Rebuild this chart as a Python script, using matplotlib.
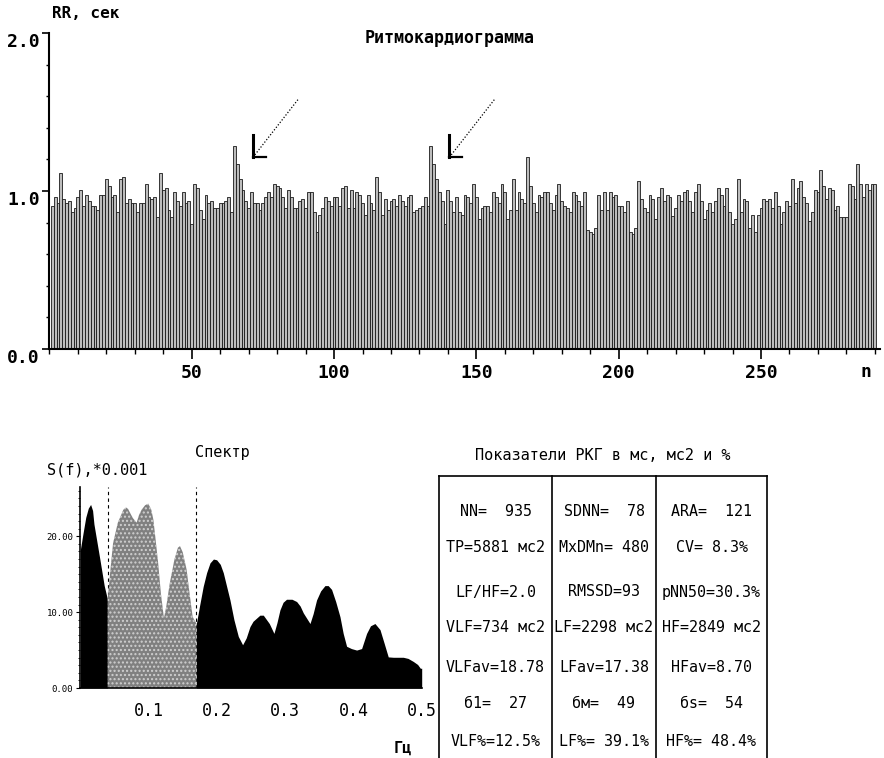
import numpy as np
import matplotlib
matplotlib.use("Agg")
import matplotlib.pyplot as plt
from matplotlib.ticker import MultipleLocator


# ------------------------------------------------------------
# DATA
# ------------------------------------------------------------
# RR intervals, seconds (one per beat)
rr = [
    0.905, 0.962, 0.922, 1.115, 0.948, 0.922, 0.935, 0.866, 0.891, 0.962,
    1.004, 0.908, 0.977, 0.935, 0.908, 0.908, 0.879, 0.977, 0.977, 1.074,
    1.031, 0.962, 0.977, 0.866, 1.074, 1.088, 0.922, 0.948, 0.922, 0.922,
    0.866, 0.922, 0.922, 1.046, 0.962, 0.948, 0.962, 0.837, 1.115, 1.004,
    1.019, 0.879, 0.837, 0.992, 0.935, 0.908, 0.992, 0.922, 0.935, 0.794,
    1.046, 1.019, 0.879, 0.824, 0.977, 0.922, 0.935, 0.893, 0.893, 0.922,
    0.922, 0.935, 0.962, 0.866, 1.283, 1.172, 1.074, 1.004, 0.935, 0.893,
    0.992, 0.922, 0.922, 0.879, 0.922, 0.962, 0.992, 0.962, 1.046, 1.031,
    1.019, 0.962, 0.893, 1.004, 0.962, 0.893, 0.893, 0.935, 0.948, 0.893,
    0.992, 0.992, 0.866, 0.740, 0.851, 0.893, 0.962, 0.935, 0.908, 0.962,
    0.962, 0.908, 1.019, 1.031, 0.893, 1.004, 0.893, 0.992, 0.977, 0.922,
    0.851, 0.977, 0.922, 0.879, 1.088, 0.992, 0.851, 0.948, 0.879, 0.935,
    0.948, 0.908, 0.977, 0.935, 0.908, 0.962, 0.977, 0.866, 0.879, 0.893,
    0.908, 0.962, 0.908, 1.283, 1.172, 1.074, 0.992, 0.935, 0.794, 1.004,
    0.935, 0.866, 0.962, 0.866, 0.851, 0.977, 0.962, 0.922, 1.046, 0.962,
    0.824, 0.893, 0.908, 0.908, 0.866, 0.992, 0.962, 0.922, 1.046, 0.992,
    0.824, 0.879, 1.074, 0.879, 0.992, 0.948, 0.922, 1.214, 1.031, 0.922,
    0.866, 0.977, 0.962, 0.992, 0.992, 0.922, 0.879, 0.977, 1.046, 0.935,
    0.908, 0.893, 0.866, 0.992, 0.977, 0.935, 0.908, 0.992, 0.755, 0.740,
    0.726, 0.767, 0.977, 0.879, 0.992, 0.879, 0.992, 0.962, 0.977, 0.908,
    0.908, 0.866, 0.935, 0.740, 0.726, 0.767, 1.061, 0.948, 0.893, 0.866,
    0.977, 0.948, 0.824, 0.962, 1.019, 0.935, 0.977, 0.962, 0.839, 0.893,
    0.977, 0.935, 0.992, 1.004, 0.935, 0.866, 0.992, 1.046, 0.935, 0.824,
    0.879, 0.922, 0.866, 0.935, 1.019, 0.977, 0.908, 1.019, 0.866, 0.794,
    0.824, 1.074, 0.866, 0.948, 0.935, 0.767, 0.851, 0.740, 0.851, 0.893,
    0.948, 0.935, 0.948, 0.893, 0.992, 0.908, 0.794, 0.866, 0.935, 0.908,
    1.074, 0.922, 1.019, 1.061, 0.962, 0.922, 0.809, 0.866, 1.004, 0.992,
    1.130, 1.031, 0.948, 1.019, 1.004, 0.879, 0.908, 0.837, 0.837, 0.837,
    1.046, 1.031, 0.948, 1.172, 1.046, 0.962, 1.046, 1.004, 1.046, 1.046,
]
arrow_beats = [65, 134]          # beats marked by arrows
rr_ticks = [0.0, 1.0, 2.0]
n_ticks = [50, 100, 150, 200, 250]

# power spectrum, S(f) * 0.001
spec_freq = [0.0, 0.004, 0.008, 0.0117, 0.0151, 0.018, 0.020, 0.0288,
             0.035, 0.040,
             0.044, 0.048, 0.055, 0.063, 0.067, 0.070, 0.074, 0.077,
             0.0825, 0.086, 0.0898, 0.095, 0.0996, 0.104, 0.107, 0.110,
             0.114, 0.118, 0.1225, 0.126, 0.131, 0.138, 0.143, 0.146,
             0.150, 0.1557, 0.160, 0.1645, 0.170,
             0.175, 0.180, 0.185, 0.190, 0.195, 0.1997, 0.205, 0.2094,
             0.2192, 0.225, 0.2314, 0.2377, 0.243, 0.2485, 0.253, 0.258,
             0.263, 0.268, 0.272, 0.2768, 0.2836, 0.288, 0.2924, 0.297,
             0.302, 0.310, 0.3168, 0.322, 0.3266, 0.3364, 0.341, 0.346,
             0.352, 0.3583, 0.363, 0.368, 0.374, 0.3803, 0.385, 0.390,
             0.397, 0.4047, 0.412, 0.4193, 0.425, 0.4315, 0.4389, 0.445,
             0.451, 0.4584, 0.473, 0.480, 0.4877, 0.494, 0.498, 0.500]
spec_power = [18.2, 20.4, 22.5, 23.7, 24.2, 23.4, 21.6, 16.9,
              13.5, 11.6,
              15.5, 19.1, 21.8, 23.5, 23.8, 23.6, 22.9, 22.4,
              21.8, 22.8, 23.5, 24.1, 24.3, 23.5, 22.2, 19.8,
              16.5, 12.5, 9.2, 10.8, 13.8, 17.0, 18.5, 18.7,
              17.9, 15.6, 12.5, 9.4, 8.5,
              11.0, 13.4, 15.2, 16.5, 17.0, 16.9, 16.3, 15.2,
              11.6, 9.0, 6.8, 5.7, 6.6, 8.1, 8.8, 9.2,
              9.6, 9.6, 9.1, 8.5, 7.2, 8.6, 10.3, 11.3,
              11.7, 11.7, 11.4, 10.8, 9.9, 8.5, 9.8, 11.6,
              12.8, 13.5, 13.5, 13.0, 11.4, 9.4, 7.2, 5.5,
              5.2, 5.0, 5.2, 7.2, 8.2, 8.5, 7.7, 5.9,
              4.1, 4.05, 4.05, 3.9, 3.5, 3.1, 2.6, 2.6]
vlf_lf = 0.04
lf_hf = 0.17
freq_ticks = [0.1, 0.2, 0.3, 0.4, 0.5]
power_ticks = [0, 10, 20]

# HRV indices table (3 columns x 7 rows)
col1 = ["NN=  935", "TP=5881 мс2", "LF/HF=2.0", "VLF=734 мс2",
        "VLFav=18.78", "б1=  27", "VLF%=12.5%"]
col2 = ["SDNN=  78", "MxDMn= 480", "RMSSD=93", "LF=2298 мс2",
        "LFav=17.38", "бм=  49", "LF%= 39.1%"]
col3 = ["ARA=  121", "CV= 8.3%", "pNN50=30.3%", "HF=2849 мс2",
        "HFav=8.70", "бs=  54", "HF%= 48.4%"]


# ------------------------------------------------------------
# FIGURE
# ------------------------------------------------------------
W, H = 884, 758
fig = plt.figure(figsize=(W / 100, H / 100), dpi=100)
MONO = "DejaVu Sans Mono"


def px_axes(x0, y0, x1, y1):
    return fig.add_axes([x0 / W, 1 - y1 / H, (x1 - x0) / W, (y1 - y0) / H])


# ------------------------------------------------------------
# RHYTHMOGRAM
# ------------------------------------------------------------
ax = px_axes(49.4, 33, 880, 349)
beats = np.arange(1, len(rr) + 1)
ax.bar(beats, rr, width=1.0, facecolor="#bdbdbd", edgecolor="#1a1a1a",
       linewidth=0.6)
ax.set_xlim(0, 291.8)
ax.set_ylim(0, 2.0)
for s in ["top", "right"]:
    ax.spines[s].set_visible(False)
for s in ["left", "bottom"]:
    ax.spines[s].set_linewidth(1.5)

ax.set_xticks(n_ticks)
ax.set_xticklabels([str(t) for t in n_ticks], fontfamily=MONO,
                   fontweight="bold", fontsize=13)
ax.xaxis.set_minor_locator(MultipleLocator(10))
ax.set_yticks(rr_ticks)
ax.set_yticklabels([f"{t:.1f}" for t in rr_ticks], fontfamily=MONO,
                   fontweight="bold", fontsize=13)
# labels hang just below their tick, as in the original
for lab in ax.get_yticklabels():
    lab.set_verticalalignment("top")
ax.yaxis.set_minor_locator(MultipleLocator(0.2))
ax.tick_params(axis="x", which="major", length=7, width=1.2, pad=4)
ax.tick_params(axis="x", which="minor", length=3.5, width=1.0)
ax.tick_params(axis="y", which="major", length=5, width=1.2, pad=2)
ax.tick_params(axis="y", which="minor", length=2, width=1.0)

# arrows pointing at the two long intervals
for b in arrow_beats:
    hx, hy = b + 6.5, rr[b - 1] - 0.07
    ax.plot([hx + 15.8, hx], [hy + 0.365, hy], ls=(0, (1, 1.5)),
            color="black", lw=0.9)
    ax.plot([hx, hx], [hy, hy + 0.14], color="black", lw=2.2)
    ax.plot([hx, hx + 4.6], [hy, hy], color="black", lw=1.6)

fig.text(52 / W, 1 - 14 / H, "RR, сек", fontfamily=MONO, fontweight="bold",
         fontsize=11.5, ha="left", va="center")
fig.text(450 / W, 1 - 38 / H, "Ритмокардиограмма", fontfamily=MONO,
         fontweight="bold", fontsize=12, ha="center", va="center")
fig.text(866 / W, 1 - 372 / H, "n", fontfamily=MONO, fontweight="bold",
         fontsize=13, ha="center", va="center")


# ------------------------------------------------------------
# SPECTRUM
# ------------------------------------------------------------
sx = px_axes(80.3, 487, 421.7, 688)
f = np.array(spec_freq)
p = np.array(spec_power)
sx.axvline(vlf_lf, color="black", ls=(0, (3, 3)), lw=0.8, zorder=1)
sx.axvline(lf_hf, color="black", ls=(0, (3, 3)), lw=0.8, zorder=1)
sx.fill_between(f, p, where=f <= vlf_lf, color="black", lw=0, zorder=2)
sx.fill_between(f, p, where=(f >= vlf_lf) & (f <= lf_hf), facecolor="#808080",
                edgecolor="#d0d0d0", hatch="....", lw=0, zorder=2)
sx.fill_between(f, p, where=f >= lf_hf, color="black", lw=0, zorder=2)
sx.set_xlim(0, 0.5)
sx.set_ylim(0, 26.5)
for s in ["top", "right"]:
    sx.spines[s].set_visible(False)
for s in ["left", "bottom"]:
    sx.spines[s].set_linewidth(1.2)
sx.set_xticks(freq_ticks)
sx.set_xticklabels([f"{t:.1f}" for t in freq_ticks], fontfamily=MONO,
                   fontsize=12)
sx.set_yticks(power_ticks)
sx.set_yticklabels([f"{t:.2f}" for t in power_ticks], fontfamily=MONO,
                   fontsize=6.5)
sx.yaxis.set_minor_locator(MultipleLocator(1))
sx.tick_params(axis="x", length=0, pad=10)
sx.tick_params(axis="y", which="major", length=3, pad=2)
sx.tick_params(axis="y", which="minor", length=1.5)

fig.text(47 / W, 1 - 470 / H, "S(f),*0.001", fontfamily=MONO, fontsize=11,
         ha="left", va="center")
fig.text(222 / W, 1 - 452 / H, "Спектр", fontfamily=MONO, fontsize=11,
         ha="center", va="center")
fig.text(403 / W, 1 - 748 / H, "Гц", fontfamily=MONO, fontweight="bold",
         fontsize=11, ha="center", va="center")


# ------------------------------------------------------------
# INDICES TABLE
# ------------------------------------------------------------
tx = px_axes(439, 476, 767, 758)
tx.set_xlim(0, 328)
tx.set_ylim(282, 0)
tx.axis("off")
col_edges = [0, 113, 217, 328]
row_y = [35, 72, 116, 152, 191, 227, 266]
tx.plot([0, 328], [0, 0], color="black", lw=1.2, clip_on=False)
for x in col_edges:
    tx.plot([x, x], [0, 282], color="black", lw=1.2, clip_on=False)
for ci, col in enumerate([col1, col2, col3]):
    cx = (col_edges[ci] + col_edges[ci + 1]) / 2
    for ri, txt in enumerate(col):
        tx.text(cx, row_y[ri], txt, fontfamily=MONO, fontsize=10.8,
                ha="center", va="center")

fig.text(603 / W, 1 - 455 / H, "Показатели РКГ в мс, мс2 и %",
         fontfamily=MONO, fontsize=11, ha="center", va="center")

plt.savefig("out.png", dpi=100)
